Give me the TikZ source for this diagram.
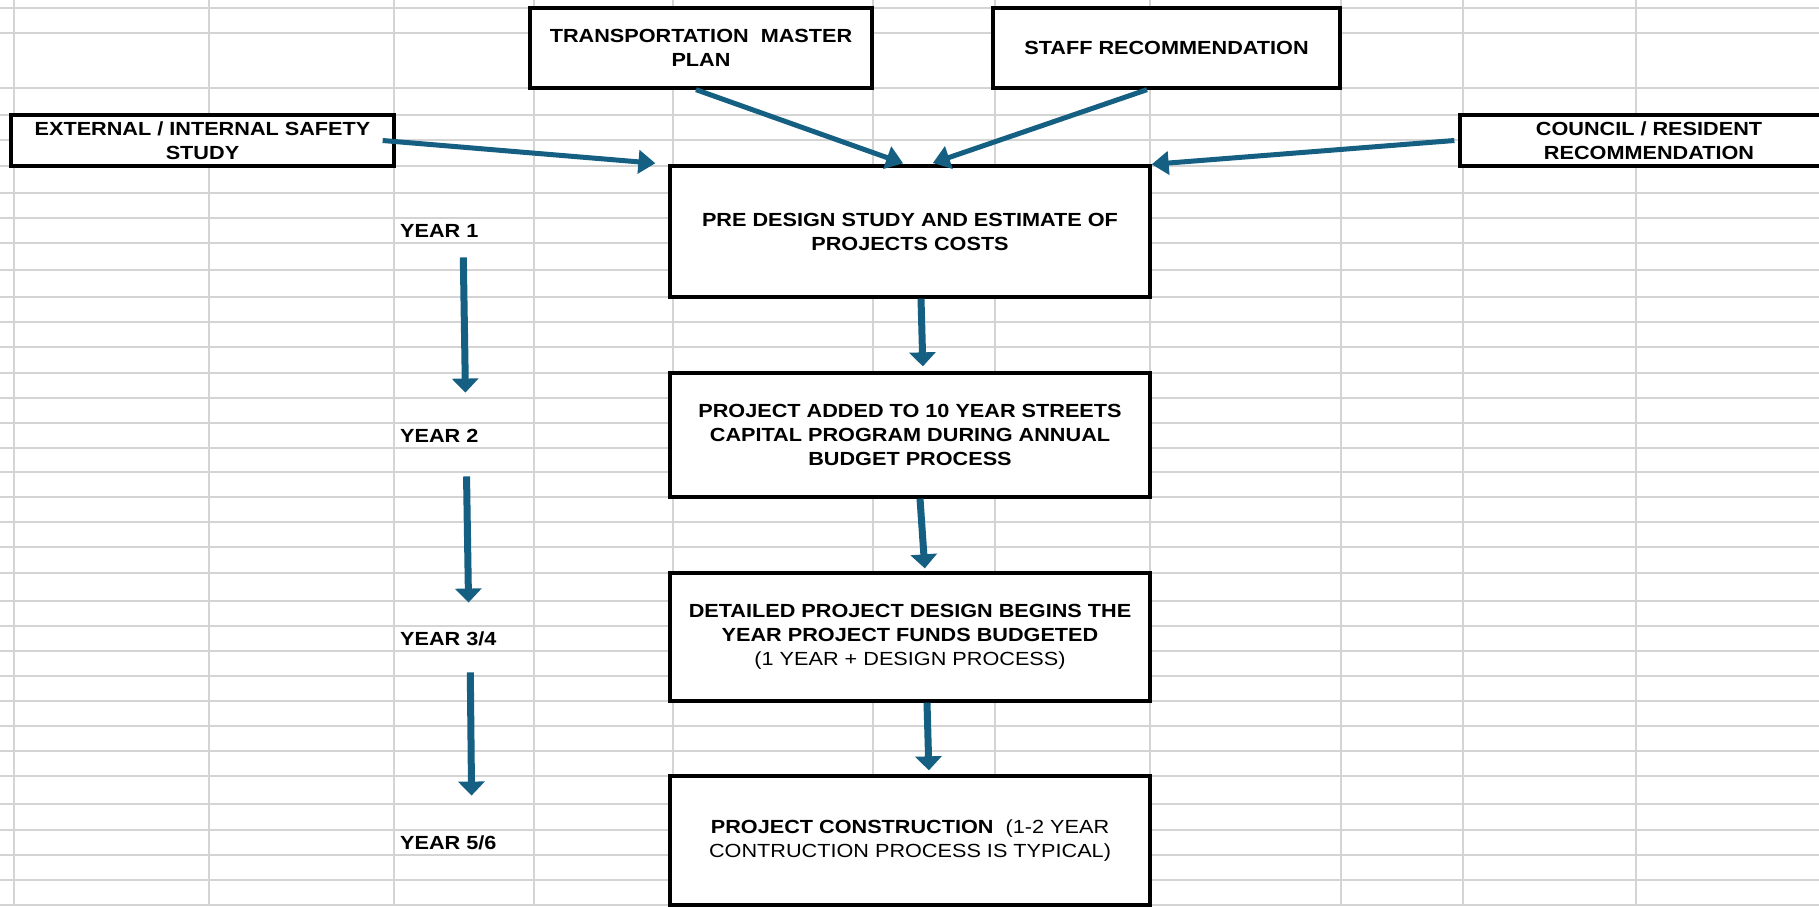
\documentclass[tikz,border=0pt]{standalone}
\usepackage{fontspec}
\setmainfont[FakeStretch=1.14]{Liberation Sans}
\usetikzlibrary{arrows.meta}
\definecolor{arrowblue}{HTML}{156082}
\definecolor{cellgrid}{HTML}{D4D4D4}

\begin{document}
\begin{tikzpicture}[
  x=1pt,
  y=-1pt,
  font=\fontsize{19}{24}\selectfont,
  box/.style={draw, line width=3.3pt, fill=white, align=center, inner sep=0pt, font=\fontsize{19}{24}\selectfont\bfseries},
  srcbox/.style={box, minimum height=51pt},
  topbox/.style={box, minimum height=80pt},
  stagebox/.style={box, minimum width=480pt},
  yearlabel/.style={anchor=west, inner sep=0pt, text height=13.5pt, text depth=0pt, font=\fontsize{19}{24}\selectfont\bfseries},
  gridline/.style={draw=cellgrid, line width=1.2pt},
  feed/.style={draw=arrowblue, line width=5pt, -{Triangle[width=23pt,length=17pt]}},
  flow/.style={draw=arrowblue, line width=7pt, -{Triangle[width=26pt,length=14pt]}}
]
\useasboundingbox (0,0) rectangle (1819,906);
\clip (0,0) rectangle (1819,906);

% Fond: grila foii de calcul
\fill[white] (0,0) rectangle (1819,906);
\foreach \gx in {14,209,394,534,673,873,995,1150,1341,1463,1636}
  \draw[gridline] (\gx,0) -- (\gx,906);
\foreach \gy in {8,33,88,115,140,166,193,218,243,270,297,322,347,373,398,423,448,472,497,522,547,573,601,626,651,676,701,726,751,776,804,830,855,880,905}
  \draw[gridline] (0,\gy) -- (1819,\gy);

% Surse (sus)
\node[srcbox, minimum width=383pt] (ext)   at (202.5,140.5) {EXTERNAL / INTERNAL SAFETY\\STUDY};
\node[topbox, minimum width=342pt] (tmp)   at (701,48)      {TRANSPORTATION\ \ MASTER\\PLAN};
\node[topbox, minimum width=347pt] (staff) at (1166.5,48)   {STAFF RECOMMENDATION};
\node[srcbox, minimum width=378pt] (coun)  at (1649,140.5)  {COUNCIL / RESIDENT\\RECOMMENDATION};

% Etape (coloana centrala)
\node[stagebox, minimum height=131pt] (pre)    at (910,231.5) {PRE DESIGN STUDY AND ESTIMATE OF\\PROJECTS COSTS};
\node[stagebox, minimum height=124pt] (added)  at (910,435)   {PROJECT ADDED TO 10 YEAR STREETS\\CAPITAL PROGRAM DURING ANNUAL\\BUDGET PROCESS};
\node[stagebox, minimum height=128pt] (design) at (910,637)   {DETAILED PROJECT DESIGN BEGINS THE\\YEAR PROJECT FUNDS BUDGETED\\{\mdseries (1 YEAR + DESIGN PROCESS)}};
\node[stagebox, minimum height=129pt] (build)  at (910,840.5) {PROJECT CONSTRUCTION\ \ {\mdseries (1-2 YEAR}\\{\mdseries CONTRUCTION PROCESS IS TYPICAL)}};

% Ani (stanga)
\node[yearlabel] (y1)  at (400,230.5) {YEAR 1};
\node[yearlabel] (y2)  at (400,435.5) {YEAR 2};
\node[yearlabel] (y34) at (400,638.5) {YEAR 3/4};
\node[yearlabel] (y56) at (400,842.5) {YEAR 5/6};

% Surse -> studiu preliminar
\draw[feed] ([xshift=-13pt]ext.east) -- (pre.north west) [shorten >=13pt];
\draw[feed] ([xshift=-5pt]tmp.south) -- ([xshift=-4pt]pre.north) [shorten >=3pt];
\draw[feed] ([xshift=-19.5pt]staff.south) -- ([xshift=19pt]pre.north) [shorten >=4pt];
\draw[feed] ([xshift=-4pt]coun.west) -- (pre.north east);

% Flux etape
\draw[flow, shorten >=5pt] ([xshift=11pt]pre.south) -- ([xshift=13pt]added.north);
\draw[flow, shorten >=3pt] ([xshift=10pt]added.south) -- ([xshift=15pt]design.north);
\draw[flow, shorten >=4pt] ([xshift=17pt]design.south) -- ([xshift=19pt]build.north);

% Axa timpului
\draw[flow, shorten <=20pt, shorten >=36pt] ([xshift=63pt]y1.south west) -- ([xshift=66pt]y2.north west);
\draw[flow, shorten <=34pt, shorten >=29pt] ([xshift=66pt]y2.south west) -- ([xshift=69pt]y34.north west);
\draw[flow, shorten <=27pt, shorten >=40pt] ([xshift=70pt]y34.south west) -- ([xshift=72pt]y56.north west);

\end{tikzpicture}
\end{document}
